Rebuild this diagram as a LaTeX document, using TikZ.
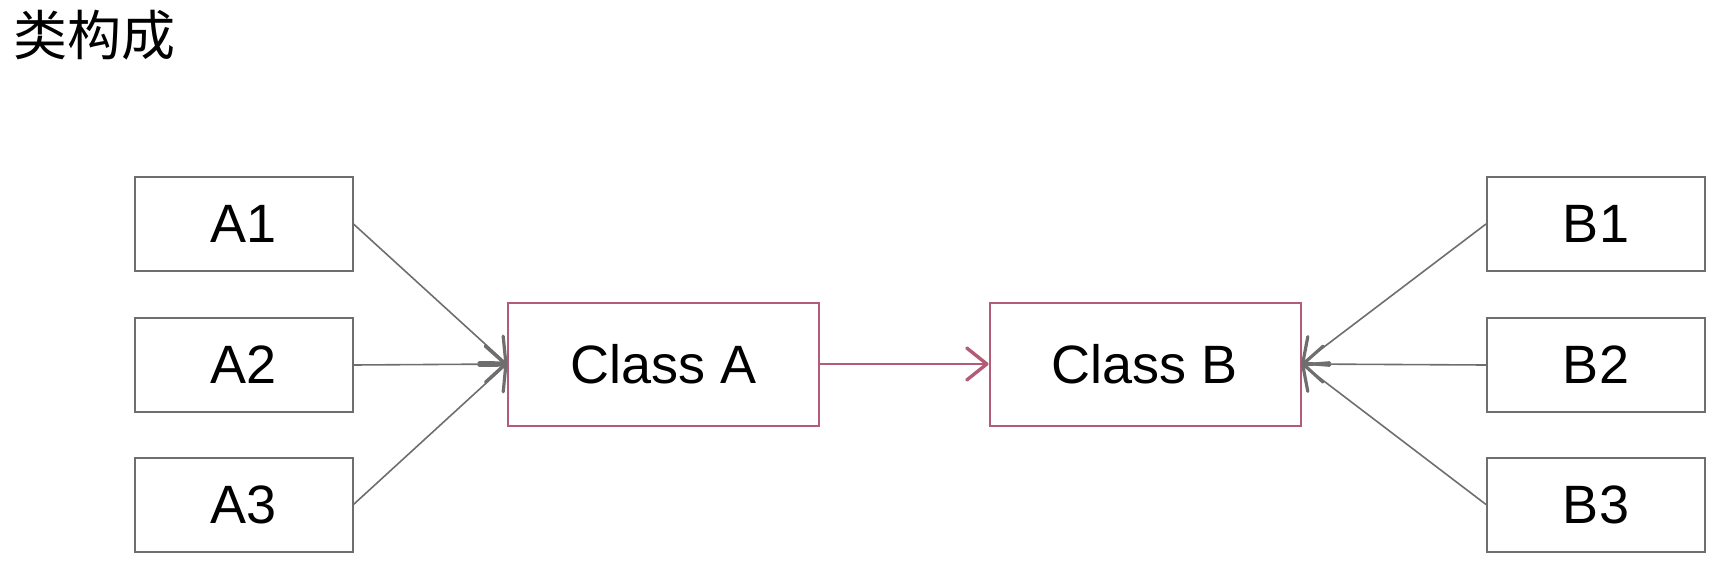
\documentclass[tikz,border=0pt]{standalone}
\usepackage{fontspec}
\setmainfont{Liberation Sans}
\newfontfamily\cjk{Noto Sans CJK SC}
\usepackage{tikz}
\usetikzlibrary{arrows.meta}
\definecolor{boxgray}{RGB}{110,110,110}
\definecolor{classpink}{RGB}{178,92,120}
\tikzset{part/.style={draw=boxgray,line width=1pt,minimum width=109pt,minimum height=47pt,inner sep=0pt,font=\fontsize{27}{30}\selectfont},
  cls/.style={draw=classpink,line width=1pt,minimum width=155.5pt,minimum height=61.5pt,inner sep=0pt,font=\fontsize{27}{30}\selectfont},
  link/.style={draw=boxgray,line width=0.8pt,-{Straight Barb[length=10pt,width=18pt,line width=1.6pt,round]}},
  uses/.style={draw=classpink,line width=1.1pt,-{Straight Barb[length=10pt,width=16pt,line width=1.7pt,round]}}}

\begin{document}
\begin{tikzpicture}[x=0.5pt,y=-0.5pt]
    \useasboundingbox (0,0) rectangle (1726,562);

    \node [anchor=north west,inner sep=0pt,font=\cjk\fontsize{27}{30}\selectfont] (title) at (13,10) {类构成};

    \node [cls] (clsA) at (663.5,364) {Class A};
    \node [cls] (clsB) at (1145,364) {Class B};

    \node [part] (a1) at (243.5,224) {A1};
    \node [part] (a2) at (243.5,365) {A2};
    \node [part] (a3) at (243.5,504.5) {A3};

    \node [part] (b1) at (1596,224) {B1};
    \node [part] (b2) at (1596,365) {B2};
    \node [part] (b3) at (1596,504.5) {B3};

    \foreach \i in {1, 2, 3} {
        \draw [link] (a\i.east) -- (clsA.west);
        \draw [link] (b\i.west) -- (clsB.east);
    }

    \draw [uses] (clsA.east) -- (clsB.west);

\end{tikzpicture}
\end{document}
